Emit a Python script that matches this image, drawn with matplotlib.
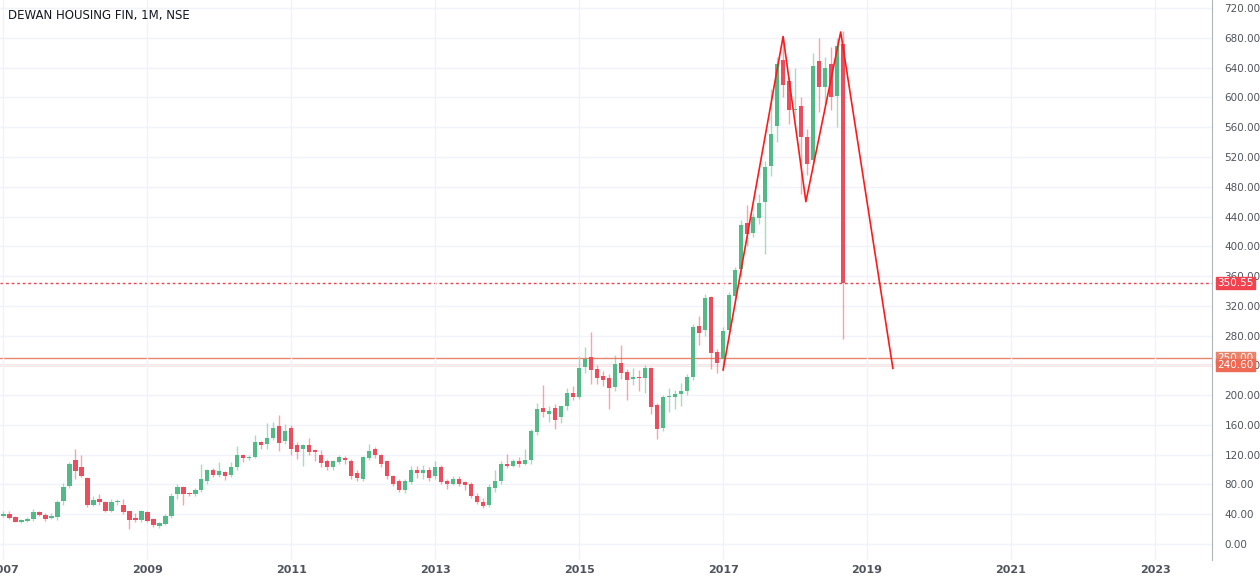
import matplotlib
matplotlib.use("Agg")
import matplotlib.pyplot as plt
import numpy as np

# monthly candles, Jan 2007 .. Sep 2018
opens = [38,40,36,30,31,33,43,39,35,36,
         58,78,113,104,89,53,60,57,44,56,
         53,44,35,32,43,33,24,27,37,67,
         77,69,67,72,84,100,93,97,93,103,
         119,115,117,137,135,143,159,138,156,133,
         128,133,126,120,112,104,110,116,112,96,
         88,116,127,119,111,92,84,72,83,100,
         95,100,91,104,84,80,88,83,81,65,
         57,52,75,84,107,105,112,108,113,151,
         183,175,183,170,185,203,197,238,251,235,
         226,223,211,243,231,222,225,223,236,187,
         156,198,198,201,205,224,293,287,332,258,
         249,288,333,370,431,418,438,460,508,562,
         650,622,583,588,547,516,649,614,645,602,672]
closes = [40,35,30,32,34,43,39,33,38,57,
          77,108,98,92,52,59,56,44,57,58,
          43,32,32,44,31,25,28,37,65,76,
          67,67,73,87,100,93,98,92,103,119,
          115,117,137,133,143,156,136,152,128,124,
          133,124,124,109,103,112,117,113,91,89,
          117,125,119,108,92,81,72,84,100,95,
          100,89,104,83,80,88,80,79,64,57,
          51,77,84,107,105,112,108,113,152,181,
          178,179,167,185,203,198,236,248,234,223,
          220,210,242,230,220,225,223,236,184,154,
          198,199,201,205,224,292,284,330,257,243,
          286,334,368,429,416,439,458,507,551,645,
          617,583,585,547,510,642,614,639,600,669,351]
highs = [45,45,37,33,36,47,45,41,41,59,
         82,110,127,119,90,64,67,58,61,60,
         60,45,41,46,45,35,30,40,68,80,
         78,70,75,108,101,102,110,98,110,132,
         121,119,147,138,163,164,173,161,160,137,
         135,143,128,126,114,113,119,118,114,100,
         118,134,130,121,113,93,88,87,105,105,
         106,103,112,106,87,92,92,85,83,69,
         62,80,100,111,121,114,117,127,155,189,
         213,186,188,186,209,212,252,265,285,241,
         232,228,254,268,235,236,234,240,238,190,
         200,209,207,216,228,296,306,336,333,262,
         291,338,372,435,456,445,470,515,612,655,
         680,627,640,600,558,660,680,655,668,680,690]
lows = [36,34,29,28,29,31,37,31,33,32,
        53,75,87,90,50,51,53,43,43,53,
        40,20,30,30,29,23,22,25,35,60,
        52,64,64,70,80,90,90,86,90,100,
        110,113,116,127,128,140,125,135,120,114,
        105,120,112,103,99,100,108,108,88,85,
        85,113,116,104,88,78,70,69,80,89,
        88,85,87,80,74,79,78,72,62,54,
        48,50,70,80,102,103,104,106,108,146,
        170,164,155,163,180,194,195,230,215,215,
        212,182,205,222,194,213,205,203,175,141,
        152,178,182,185,200,220,268,280,235,230,
        233,282,325,360,400,413,430,390,495,540,
        600,565,578,470,496,510,580,590,583,560,276]

# zigzag pattern (month index, price)
zz_x = [120, 130, 133.8, 139.6, 148.3]
zz_y = [234, 682, 460, 688, 236]

levels = [350.55, 250.00, 240.60]
level_colors = ["#f0434f", "#e8846c", "#ee6a55"]

years = list(range(2007, 2024, 2))

up_c, dn_c = "#53b987", "#eb4d5c"

fig = plt.figure(figsize=(12.6, 5.84), dpi=100)
ax = fig.add_axes([0, 24/584, 1212/1260, 560/584])

x = np.arange(len(opens))
o = np.array(opens); c = np.array(closes)
cols = [up_c if cc >= oo else dn_c for oo, cc in zip(o, c)]
ax.vlines(x, lows, highs, colors=cols, linewidth=1, alpha=0.5, zorder=2)
ax.bar(x, np.maximum(np.abs(c - o), 1.5), bottom=np.minimum(o, c), width=0.75,
       color=cols, zorder=3)

ax.plot(zz_x, zz_y, color="#ff1a1a", lw=1.2, zorder=4)

ax.axhline(levels[0], color=level_colors[0], lw=1, ls=(0, (2, 2)), zorder=1)
ax.axhline(levels[1], color=level_colors[1], lw=1, zorder=1)
ax.axhline(levels[2], color=level_colors[2], lw=1, zorder=1)

ax.set_xlim(-0.55, 201.5)
ax.set_ylim(-21.5, 731)
ax.yaxis.tick_right()
ax.set_yticks(np.arange(0, 721, 40))
ax.set_yticklabels([f"{v:.2f}" for v in np.arange(0, 721, 40)])
ax.set_xticks([12 * (y - 2007) for y in years])
ax.set_xticklabels([str(y) for y in years], fontweight="bold")
ax.tick_params(axis="both", length=0, labelsize=8, colors="#50535e")
ax.tick_params(axis="y", pad=9, labelsize=7.5)
ax.grid(color="#f0f3fa", lw=1)
for s in ["top", "left", "bottom"]:
    ax.spines[s].set_visible(False)
ax.spines["right"].set_color("#b2b5be")

for lv, col in zip(levels, level_colors):
    ax.annotate(f"{lv:.2f}", xy=(1, lv), xycoords=("axes fraction", "data"),
                xytext=(4, 0), textcoords="offset points", va="center", ha="left",
                fontsize=7.5, color="white", zorder=10,
                bbox=dict(boxstyle="square,pad=0.12", fc=col, ec=col))

fig.text(8/1260, 1 - 16/584, "DEWAN HOUSING FIN, 1M, NSE", fontsize=8.5,
         color="#131722", va="center")

fig.savefig("out.png", dpi=100)
